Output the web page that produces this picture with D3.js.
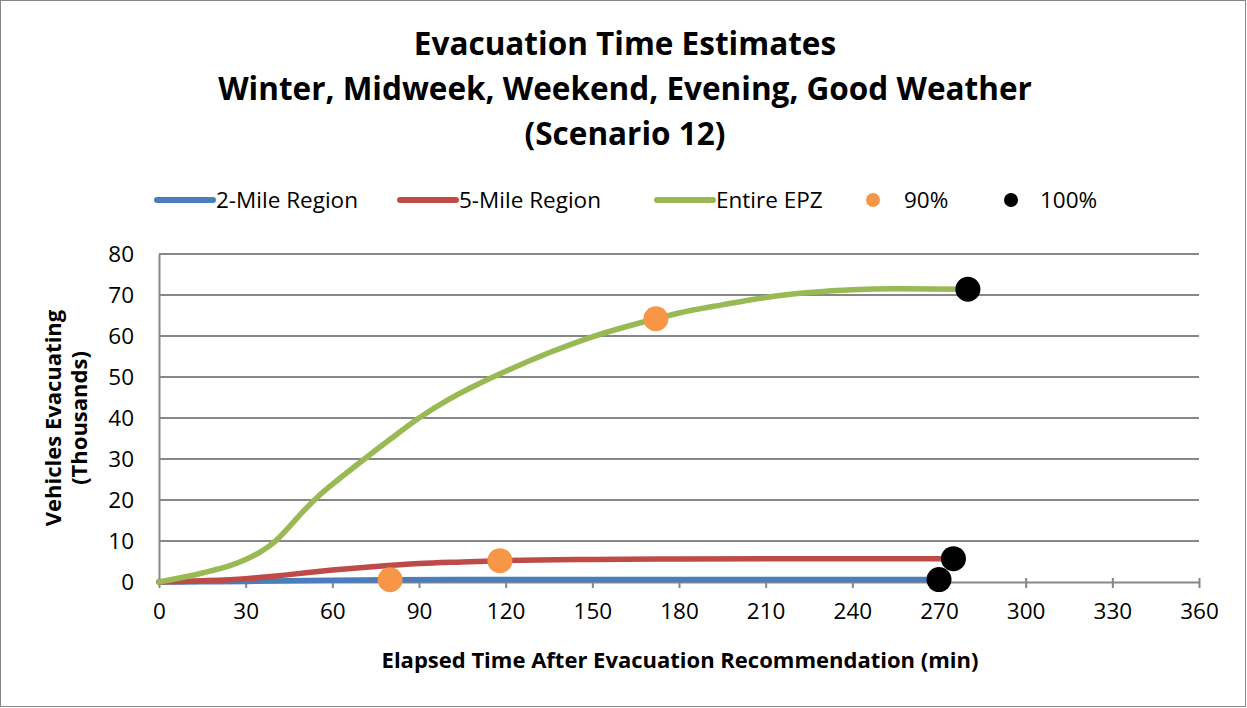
<!DOCTYPE html>
<html><head><meta charset="utf-8">
<script src="https://cdn.jsdelivr.net/npm/d3@7"></script>
<style>html,body{margin:0;padding:0;background:#fff}svg{display:block}</style>
</head><body>
<script>
const titleLines = ["Evacuation Time Estimates","Winter, Midweek, Weekend, Evening, Good Weather","(Scenario 12)"];
const xTicks = [0,30,60,90,120,150,180,210,240,270,300,330,360];
const yTicks = [0,10,20,30,40,50,60,70,80];
const mile2 = [[0,0],[15,0.05],[30,0.15],[45,0.3],[60,0.45],[80,0.55],[120,0.6],[180,0.6],[270,0.6]];
const mile5 = [[0,0],[15,0.3],[30,0.8],[45,1.8],[60,2.9],[75,3.8],[90,4.5],[105,4.9],[118,5.2],[150,5.5],[180,5.6],[240,5.7],[275,5.7]];
const epz = [[0,0],[15,2.2],[25,4.1],[30,5.5],[35,7.3],[40,9.8],[45,13.4],[50,17.3],[55,20.8],[60,23.8],[70,29.4],[80,34.8],[90,40],[100,44.4],[110,48.1],[120,51.4],[135,55.9],[150,59.8],[172,64.2],[180,65.6],[195,67.6],[210,69.4],[225,70.6],[240,71.3],[255,71.5],[280,71.4]];
const pct90 = [[80,0.55],[118,5.2],[172,64.2]];
const pct100 = [[270,0.6],[275,5.7],[280,71.4]];
const seriesNames = ["2-Mile Region","5-Mile Region","Entire EPZ","90%","100%"];
const colors = ["#4a7ebb","#be4b48","#98b954","#f79646","#000000"];

const W=1247,H=708;
const font="'Open Sans', Lato, sans-serif";
const svg=d3.select("body").append("svg").attr("width",W).attr("height",H);
svg.append("rect").attr("x",0.5).attr("y",0.5).attr("width",W-2).attr("height",H-2).attr("fill","#fff").attr("stroke","#868686");

const x=d3.scaleLinear().domain([0,360]).range([159,1199]);
const y=d3.scaleLinear().domain([0,80]).range([582,254]);

// title
svg.append("g").selectAll("text").data(titleLines).join("text")
 .attr("x",625).attr("y",(d,i)=>55+i*45).attr("text-anchor","middle")
 .attr("font-family",font).attr("font-weight","bold").attr("font-size",31.5).attr("fill","#000").text(d=>d);

// grid
svg.append("g").selectAll("line").data(yTicks.filter(d=>d>0)).join("line")
 .attr("x1",x(0)).attr("x2",x(360)).attr("y1",d=>y(d)).attr("y2",d=>y(d))
 .attr("stroke","#878787").attr("stroke-width",2);

// axes
const yAx=svg.append("g").attr("transform",`translate(${x(0)},0)`)
 .call(d3.axisLeft(y).tickValues(yTicks).tickSize(0).tickPadding(25));
yAx.select(".domain").attr("stroke","#878787").attr("stroke-width",2);
yAx.selectAll("text").attr("font-family",font).attr("font-size",22.5).attr("fill","#000");

const xAx=svg.append("g").attr("transform",`translate(0,${y(0)})`)
 .call(d3.axisBottom(x).tickValues(xTicks).tickSizeInner(6).tickSizeOuter(0).tickPadding(15));
xAx.select(".domain").attr("stroke","#878787").attr("stroke-width",2);
xAx.selectAll(".tick line").attr("stroke","#878787").attr("stroke-width",2).attr("y1",-4).attr("y2",6);
xAx.selectAll("text").attr("font-family",font).attr("font-size",22.5).attr("fill","#000");

// axis titles
svg.append("text").attr("x",680).attr("y",668).attr("text-anchor","middle")
 .attr("font-family",font).attr("font-weight","bold").attr("font-size",22).text("Elapsed Time After Evacuation Recommendation (min)");
const yt=svg.append("text").attr("transform","translate(61,418) rotate(-90)").attr("text-anchor","middle")
 .attr("font-family",font).attr("font-weight","bold").attr("font-size",22);
yt.append("tspan").attr("x",0).attr("y",0).text("Vehicles Evacuating");
yt.append("tspan").attr("x",0).attr("y",26).text("(Thousands)");

// lines
const line=d3.line().x(d=>x(d[0])).y(d=>y(d[1])).curve(d3.curveMonotoneX);
[[mile2,0],[mile5,1],[epz,2]].forEach(([data,i])=>{
  svg.append("path").datum(data).attr("d",line).attr("fill","none")
   .attr("stroke",colors[i]).attr("stroke-width",5.5).attr("stroke-linecap","round");
});
svg.append("g").selectAll("circle").data(pct90).join("circle")
 .attr("cx",d=>x(d[0])).attr("cy",d=>y(d[1])).attr("r",12.5).attr("fill",colors[3]);
svg.append("g").selectAll("circle").data(pct100).join("circle")
 .attr("cx",d=>x(d[0])).attr("cy",d=>y(d[1])).attr("r",12.5).attr("fill",colors[4]);

// legend
const legX=[157,400,657,873,1011];
const leg=svg.append("g");
seriesNames.forEach((n,i)=>{
  const g=leg.append("g").attr("transform",`translate(${legX[i]},200)`);
  if(i<3){
    g.append("line").attr("x1",0).attr("x2",56).attr("y1",0).attr("y2",0).attr("stroke",colors[i]).attr("stroke-width",6).attr("stroke-linecap","round");
    g.append("text").attr("x",59).attr("y",8).attr("font-family",font).attr("font-size",22.5).text(n);
  } else {
    g.append("circle").attr("cx",0).attr("cy",0).attr("r",7).attr("fill",colors[i]);
    g.append("text").attr("x",i===3?31:29).attr("y",8).attr("font-family",font).attr("font-size",22.5).text(n);
  }
});
</script>
</body></html>
